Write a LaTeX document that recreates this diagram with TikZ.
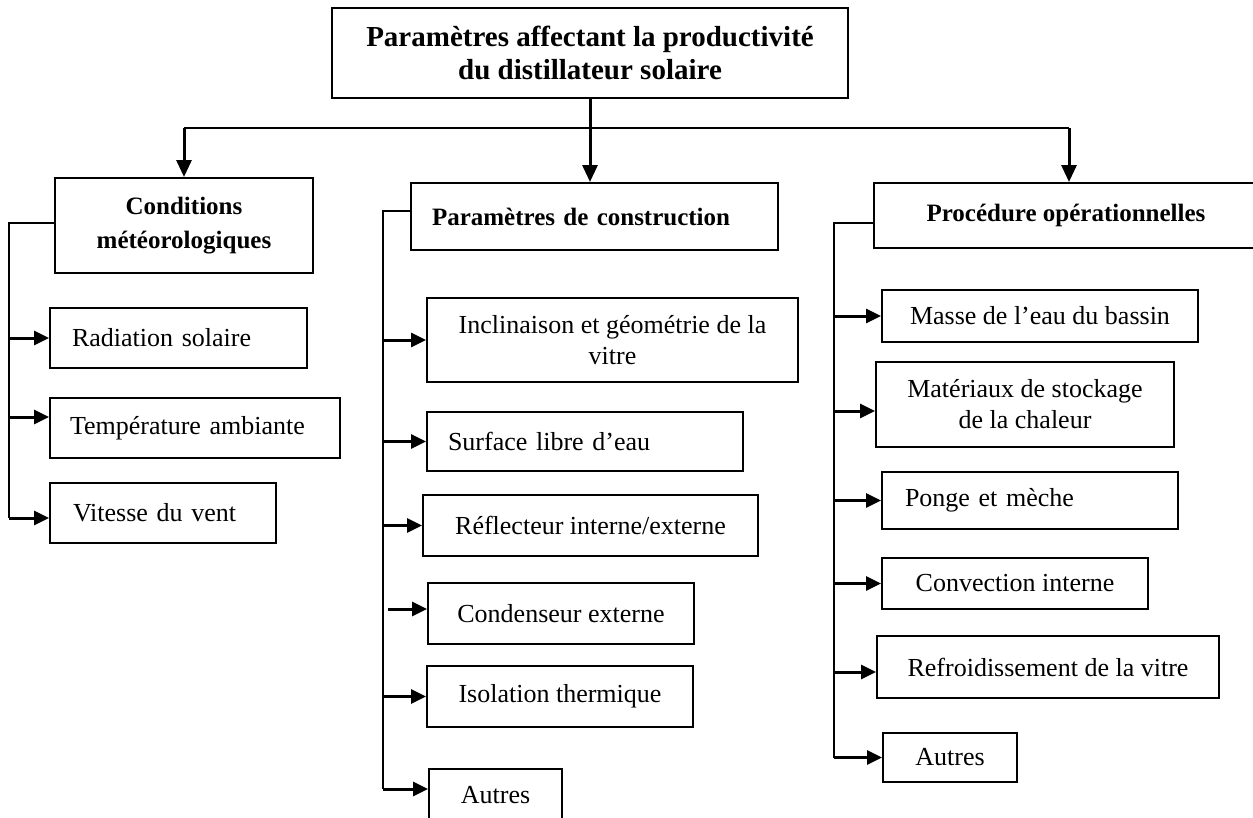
\documentclass[tikz,border=0pt]{standalone}
\usepackage{fontspec}
\setmainfont{Liberation Serif}
\usetikzlibrary{arrows.meta}
\begin{document}
\begin{tikzpicture}[x=1pt,y=-1pt,
  base/.style={draw, line width=2pt, inner sep=0pt, align=center},
  rbox/.style={base, font=\fontsize{26pt}{31pt}\selectfont},
  hbox/.style={base, font=\bfseries\fontsize{25pt}{34pt}\selectfont},
  tbox/.style={base, font=\bfseries\fontsize{29pt}{33pt}\selectfont},
  lbox/.style 2 args={align=left, inner xsep=#1, text width=#2},
  trunk/.style={line width=2pt},
  hbar/.style={line width=2.5pt},
  arr/.style={line width=3pt, -{Triangle[length=15pt,width=14pt]}},
  darr/.style={line width=3pt, -{Triangle[length=17pt,width=15pt]}}]
\useasboundingbox (0,0) rectangle (1253,817);

% title
\node[tbox, minimum width=516pt, minimum height=90pt] (title) at (590,53)
  {Paramètres affectant la productivité\\du distillateur solaire};

% headings
\node[hbox, minimum width=258pt, minimum height=95pt] (cond) at (184,225.5)
  {Conditions\\météorologiques};
\node[hbox, lbox={21pt}{325pt}, minimum width=367pt, minimum height=67pt] (param) at (594.5,216.5)
  {Paramètres de construction};
\node[hbox, minimum width=384pt, minimum height=65pt] (proc) at (1066,215.5)
  {Procédure opérationnelles};

% group 1
\node[rbox, lbox={22pt}{213pt}, minimum width=257pt, minimum height=60pt] (rad) at (178.5,338) {Radiation solaire};
\node[rbox, lbox={20pt}{250pt}, minimum width=290pt, minimum height=60pt] (temp) at (195,428) {Température ambiante};
\node[rbox, lbox={23pt}{180pt}, minimum width=226pt, minimum height=60pt] (vit) at (163,513) {Vitesse du vent};

% group 2
\node[rbox, minimum width=371pt, minimum height=84pt] (incl) at (612.5,340) {Inclinaison et géométrie de la\\vitre};
\node[rbox, lbox={21pt}{274pt}, minimum width=316pt, minimum height=59pt] (surf) at (585,441.5) {Surface libre d’eau};
\node[rbox, minimum width=335pt, minimum height=61pt] (refl) at (590.5,525.5) {Réflecteur interne/externe};
\node[rbox, minimum width=266pt, minimum height=61pt] (cden) at (561,613.5) {Condenseur externe};
\node[rbox, minimum width=266pt, minimum height=61pt] (iso) at (560,696.5) {Isolation thermique};
\node[rbox, minimum width=133pt, minimum height=53pt] (autA) at (495.5,795.5) {Autres};

% group 3
\node[rbox, minimum width=316pt, minimum height=52pt] (masse) at (1040,316) {Masse de l’eau du bassin};
\node[rbox, minimum width=298pt, minimum height=85pt] (mat) at (1025,404.5) {Matériaux de stockage\\de la chaleur};
\node[rbox, lbox={23pt}{250pt}, minimum width=296pt, minimum height=57pt] (ponge) at (1030,500.5) {Ponge et mèche};
\node[rbox, minimum width=266pt, minimum height=51pt] (conv) at (1015,583.5) {Convection interne};
\node[rbox, minimum width=342pt, minimum height=62pt] (refr) at (1048,667) {Refroidissement de la vitre};
\node[rbox, minimum width=134pt, minimum height=49pt] (autB) at (950,757.5) {Autres};

% top distribution
\coordinate (hl) at (184,128);
\coordinate (hr) at (1069,128);
\draw[hbar] (hl) -- (hr);
\draw[darr] (title.south) -- (title.south |- param.north);
\draw[darr] (hl) -- (hl |- cond.north);
\draw[darr] (hr) -- (hr |- proc.north);

% group 1 connectors
\coordinate (t1) at (9,223);
\coordinate (e-temp) at ([yshift=11pt]temp.west);
\coordinate (e-vit) at ([yshift=-5pt]vit.west);
\draw[trunk] (cond.west |- t1) -- (t1) -- (t1 |- e-vit);
\draw[arr] (t1 |- rad.west) -- (rad.west);
\draw[arr] (t1 |- e-temp) -- (e-temp);
\draw[arr] (t1 |- e-vit) -- (e-vit);

% group 2 connectors
\coordinate (t2) at (383,211);
\coordinate (e-cden) at ([yshift=4.5pt]cden.west);
\coordinate (e-autA) at ([yshift=6.5pt]autA.west);
\draw[trunk] (param.west |- t2) -- (t2) -- (t2 |- e-autA);
\draw[arr] (t2 |- incl.west) -- (incl.west);
\draw[arr] (t2 |- surf.west) -- (surf.west);
\draw[arr] (t2 |- refl.west) -- (refl.west);
\draw[arr] ([xshift=5pt]t2 |- e-cden) -- (e-cden);
\draw[arr] (t2 |- iso.west) -- (iso.west);
\draw[arr] (t2 |- e-autA) -- (e-autA);

% group 3 connectors
\coordinate (t3) at (834,223);
\coordinate (e-mat) at ([yshift=-6.5pt]mat.west);
\coordinate (e-refr) at ([yshift=-5pt]refr.west);
\draw[trunk] (proc.west |- t3) -- (t3) -- (t3 |- autB.west);
\draw[arr] (t3 |- masse.west) -- (masse.west);
\draw[arr] (t3 |- e-mat) -- (e-mat);
\draw[arr] (t3 |- ponge.west) -- (ponge.west);
\draw[arr] (t3 |- conv.west) -- (conv.west);
\draw[arr] (t3 |- e-refr) -- (e-refr);
\draw[arr] (t3 |- autB.west) -- (autB.west);
\end{tikzpicture}
\end{document}
